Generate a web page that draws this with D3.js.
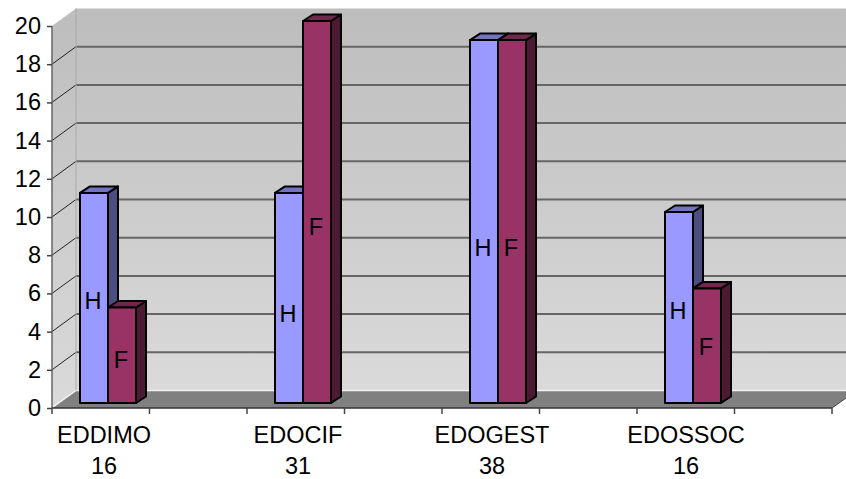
<!DOCTYPE html>
<html>
<head>
<meta charset="utf-8">
<script src="https://cdn.jsdelivr.net/npm/d3@7"></script>
<style>
html,body{margin:0;padding:0;background:#fff;}
svg{display:block;}
text{font-family:"Liberation Sans",Arial,sans-serif;fill:#000;}
</style>
</head>
<body>
<svg id="chart" width="846" height="479"></svg>
<script>
const categories = ["EDDIMO", "EDOCIF", "EDOGEST", "EDOSSOC"];
const totals = ["16", "31", "38", "16"];
const seriesNames = ["H", "F"];
const valuesH = [11, 11, 19, 10];
const valuesF = [5, 20, 19, 6];
// Axis level at which each bar's letter sits
const labelLevelsH = [5.6, 4.9, 8.4, 5.1];
const labelLevelsF = [2.5, 9.5, 8.4, 3.2];
const yTicks = [0, 2, 4, 6, 8, 10, 12, 14, 16, 18, 20];

const svg = d3.select("#chart");
const fontSize = 23.5;

// Oblique projection of the 3-D box
const depthX = 24, depthY = -17.5;
const barDepthX = 10, barDepthY = -6.5;
const barLift = -5;

const y = d3.scaleLinear().domain([0, 20]).range([408, 26]);
const xLeft = 52, xRight = 832, pageRight = 846;

const tickSlots = d3.scalePoint().domain(d3.range(9)).range([xLeft, xRight]);
const groupBand = d3.scaleBand().domain(categories).range([10.5, 790.5]);
const labelBand = d3.scaleBand().domain(categories).range([7, 783]);
const barBand = d3.scaleBand().domain(seriesNames).range([-28, 28]);

// Walls
const defs = svg.append("defs");
const grad = defs.append("linearGradient").attr("id", "wall")
  .attr("x1", 0).attr("y1", 0).attr("x2", 0).attr("y2", 1);
grad.append("stop").attr("offset", 0).attr("stop-color", "#bdbdbd");
grad.append("stop").attr("offset", 1).attr("stop-color", "#dadada");

const poly = pts => pts.map(p => p.join(",")).join(" ");
const topY = y(20), baseY = y(0);

svg.append("polygon").attr("fill", "url(#wall)")
  .attr("points", poly([[xLeft + depthX, topY + depthY], [pageRight, topY + depthY], [pageRight, baseY + depthY], [xLeft + depthX, baseY + depthY]]));
svg.append("polygon").attr("fill", "url(#wall)")
  .attr("points", poly([[xLeft, topY], [xLeft + depthX, topY + depthY], [xLeft + depthX, baseY + depthY], [xLeft, baseY]]));

// Gridlines on the back wall, with their diagonals down the side wall
const gridTicks = yTicks.filter(d => d > 0 && d < 20);
svg.append("g").selectAll("line").data(gridTicks).join("line")
  .attr("x1", xLeft + depthX).attr("x2", pageRight)
  .attr("y1", d => y(d) + depthY).attr("y2", d => y(d) + depthY)
  .attr("stroke", "#666").attr("stroke-width", 2);
svg.append("g").selectAll("line").data(gridTicks).join("line")
  .attr("x1", xLeft).attr("x2", xLeft + depthX)
  .attr("y1", d => y(d)).attr("y2", d => y(d) + depthY)
  .attr("stroke", "#222").attr("stroke-width", 1);

// Floor with its light seam against the walls
svg.append("polygon").attr("fill", "#808080")
  .attr("points", poly([[xLeft, baseY], [xLeft + depthX, baseY + depthY], [pageRight, baseY + depthY], [pageRight, baseY - 10], [xRight, baseY]]));
svg.append("polyline").attr("fill", "none").attr("stroke", "#f4f4f4").attr("stroke-width", 1.5)
  .attr("points", poly([[xLeft + 1, baseY - 1], [xLeft + depthX, baseY + depthY], [pageRight, baseY + depthY]]));
svg.append("line").attr("x1", xLeft + depthX).attr("x2", xLeft + depthX)
  .attr("y1", topY + depthY).attr("y2", baseY + depthY)
  .attr("stroke", "#aaa").attr("stroke-width", 1);

// Value axis
const yAxis = svg.append("g").attr("transform", `translate(${xLeft},0)`)
  .call(d3.axisLeft(y).tickValues(yTicks).tickSize(5).tickPadding(6));
yAxis.selectAll("text").attr("font-size", fontSize);
yAxis.attr("font-family", null).attr("font-size", null);
yAxis.selectAll("line").attr("stroke", "#444").attr("stroke-width", 1.5);
yAxis.select(".domain").attr("stroke", "#666").attr("stroke-width", 1.5).attr("d", `M0,${topY}V${baseY}`);

// Category axis
svg.append("line").attr("x1", xLeft).attr("x2", xRight).attr("y1", baseY).attr("y2", baseY)
  .attr("stroke", "#333").attr("stroke-width", 1.5);
svg.append("g").selectAll("line").data(tickSlots.domain()).join("line")
  .attr("x1", d => tickSlots(d)).attr("x2", d => tickSlots(d))
  .attr("y1", baseY).attr("y2", baseY + 6)
  .attr("stroke", "#444").attr("stroke-width", 1.5);
svg.append("polyline").attr("fill", "none").attr("stroke", "#444").attr("stroke-width", 1)
  .attr("points", poly([[xRight, baseY], [pageRight, baseY - 10]]));

svg.append("g").selectAll("text").data(categories).join("text")
  .attr("x", d => labelBand(d) + labelBand.bandwidth() / 2).attr("y", 443)
  .attr("text-anchor", "middle").attr("font-size", fontSize).text(d => d);
svg.append("g").selectAll("text").data(categories).join("text")
  .attr("x", d => labelBand(d) + labelBand.bandwidth() / 2).attr("y", 474)
  .attr("text-anchor", "middle").attr("font-size", fontSize).text((d, i) => totals[i]);

// Bars: front face, top and side
const palettes = {
  H: { front: "#9999ff", top: "#7373bf", side: "#4d4d80" },
  F: { front: "#993366", top: "#73264d", side: "#4d1a33" }
};
const rows = categories.flatMap((c, i) => [
  { c, s: "H", v: valuesH[i], level: labelLevelsH[i] },
  { c, s: "F", v: valuesF[i], level: labelLevelsF[i] }
]);

const bar = svg.append("g").attr("stroke", "#000").attr("stroke-width", 2).attr("stroke-linejoin", "round")
  .selectAll("g").data(rows).join("g");

const x0 = d => groupBand(d.c) + groupBand.bandwidth() / 2 + barBand(d.s);
const x1 = d => x0(d) + barBand.bandwidth();
const yTop = d => y(d.v) + barLift;
const yBase = y(0) + barLift;

bar.append("polygon").attr("fill", d => palettes[d.s].side)
  .attr("points", d => poly([[x1(d), yTop(d)], [x1(d) + barDepthX, yTop(d) + barDepthY], [x1(d) + barDepthX, yBase + barDepthY], [x1(d), yBase]]));
bar.append("polygon").attr("fill", d => palettes[d.s].top)
  .attr("points", d => poly([[x0(d), yTop(d)], [x0(d) + barDepthX, yTop(d) + barDepthY], [x1(d) + barDepthX, yTop(d) + barDepthY], [x1(d), yTop(d)]]));
bar.append("rect").attr("fill", d => palettes[d.s].front)
  .attr("x", x0).attr("y", yTop)
  .attr("width", barBand.bandwidth()).attr("height", d => yBase - yTop(d));

svg.append("g").selectAll("text").data(rows).join("text")
  .attr("x", d => x0(d) + barBand.bandwidth() / 2 - 1)
  .attr("y", d => y(d.level) + 8)
  .attr("text-anchor", "middle").attr("font-size", fontSize).text(d => d.s);
</script>
</body>
</html>
